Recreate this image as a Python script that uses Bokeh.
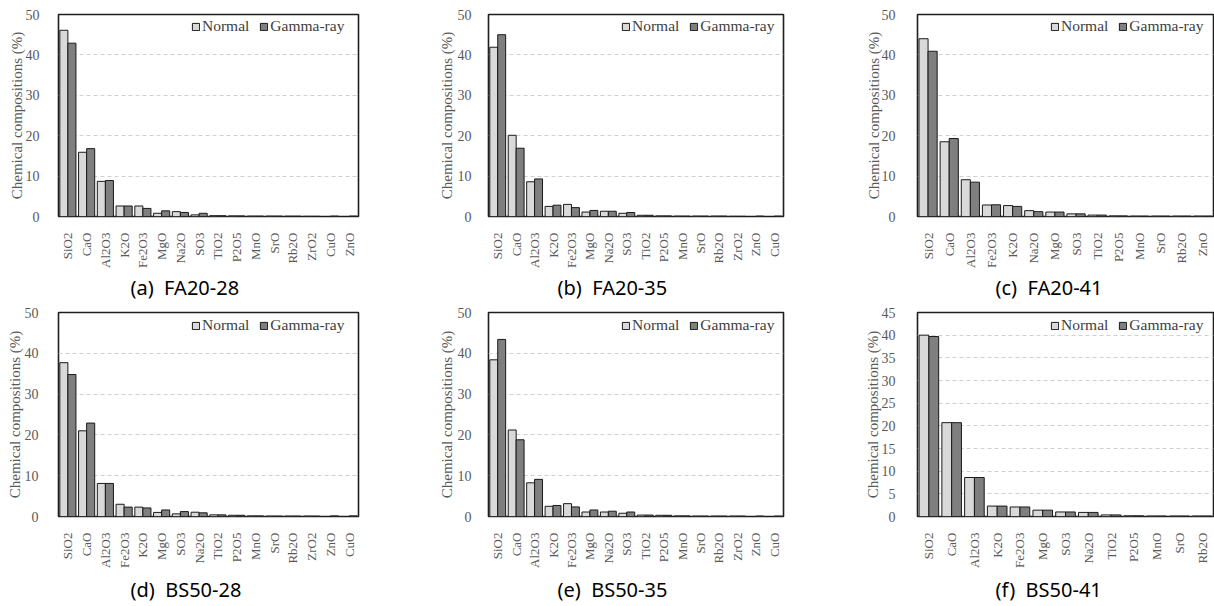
from bokeh.plotting import figure
from bokeh.models import ColumnDataSource, FactorRange, Legend, LegendItem, SingleIntervalTicker, Range1d
from bokeh.layouts import row, column
from bokeh.transform import dodge
from bokeh.embed import file_html
from bokeh.resources import INLINE
import math

# ---- data ----
cats_a = ["SiO2", "CaO", "Al2O3", "K2O", "Fe2O3", "MgO", "Na2O", "SO3", "TiO2", "P2O5", "MnO", "SrO", "Rb2O", "ZrO2", "CuO", "ZnO"]
normal_a = [46.1, 15.9, 8.7, 2.6, 2.6, 0.8, 1.2, 0.4, 0.2, 0.15, 0.1, 0.1, 0.08, 0.05, 0.0, 0.0]
gamma_a = [42.9, 16.8, 8.9, 2.6, 2.0, 1.4, 1.0, 0.8, 0.2, 0.15, 0.1, 0.1, 0.08, 0.05, 0.1, 0.1]

cats_b = ["SiO2", "CaO", "Al2O3", "K2O", "Fe2O3", "MgO", "Na2O", "SO3", "TiO2", "P2O5", "MnO", "SrO", "Rb2O", "ZrO2", "ZnO", "CuO"]
normal_b = [41.9, 20.1, 8.6, 2.5, 3.0, 1.1, 1.3, 0.8, 0.3, 0.15, 0.1, 0.1, 0.1, 0.05, 0.0, 0.0]
gamma_b = [45.0, 16.9, 9.3, 2.8, 2.2, 1.5, 1.3, 1.0, 0.3, 0.15, 0.1, 0.1, 0.1, 0.05, 0.1, 0.1]

cats_c = ["SiO2", "CaO", "Al2O3", "Fe2O3", "K2O", "Na2O", "MgO", "SO3", "TiO2", "P2O5", "MnO", "SrO", "Rb2O", "ZnO"]
normal_c = [44.0, 18.5, 9.1, 2.85, 2.7, 1.45, 1.1, 0.65, 0.35, 0.15, 0.1, 0.1, 0.1, 0.1]
gamma_c = [40.9, 19.3, 8.5, 2.9, 2.5, 1.2, 1.1, 0.65, 0.35, 0.15, 0.1, 0.1, 0.1, 0.1]

cats_d = ["SiO2", "CaO", "Al2O3", "Fe2O3", "K2O", "MgO", "SO3", "Na2O", "TiO2", "P2O5", "MnO", "SrO", "Rb2O", "ZrO2", "ZnO", "CuO"]
normal_d = [37.7, 21.0, 8.1, 3.0, 2.3, 1.0, 0.65, 1.05, 0.4, 0.3, 0.15, 0.1, 0.1, 0.1, 0.0, 0.0]
gamma_d = [34.8, 22.9, 8.1, 2.3, 2.1, 1.6, 1.2, 0.9, 0.4, 0.3, 0.15, 0.1, 0.1, 0.1, 0.15, 0.15]

cats_e = ["SiO2", "CaO", "Al2O3", "K2O", "Fe2O3", "MgO", "Na2O", "SO3", "TiO2", "P2O5", "MnO", "SrO", "Rb2O", "ZrO2", "ZnO", "CuO"]
normal_e = [38.4, 21.2, 8.25, 2.5, 3.15, 1.1, 1.1, 0.8, 0.35, 0.3, 0.15, 0.1, 0.1, 0.1, 0.0, 0.0]
gamma_e = [43.4, 18.8, 9.1, 2.7, 2.35, 1.6, 1.3, 1.1, 0.35, 0.3, 0.15, 0.1, 0.1, 0.1, 0.1, 0.1]

cats_f = ["SiO2", "CaO", "Al2O3", "K2O", "Fe2O3", "MgO", "SO3", "Na2O", "TiO2", "P2O5", "MnO", "SrO", "Rb2O"]
normal_f = [40.0, 20.7, 8.6, 2.3, 2.1, 1.4, 1.0, 0.9, 0.35, 0.15, 0.1, 0.1, 0.1]
gamma_f = [39.7, 20.7, 8.6, 2.3, 2.1, 1.4, 1.0, 0.9, 0.35, 0.15, 0.1, 0.1, 0.1]

captions = ["(a)\u00a0\u00a0FA20-28", "(b)\u00a0\u00a0FA20-35", "(c)\u00a0\u00a0FA20-41",
            "(d)\u00a0\u00a0BS50-28", "(e)\u00a0\u00a0BS50-35", "(f)\u00a0\u00a0BS50-41"]
series_names = ["Normal", "Gamma-ray"]

SERIF = "Liberation Serif"
GREY = "#595959"
FRAME = "#1f1f1f"


def panel(cats, normal, gamma, ymax, step, caption, w, h, left, right, top, bottom,
          tick_so, label_so, cap_off, cap_so):
    src = ColumnDataSource(dict(cat=cats, normal=normal, gamma=gamma))
    p = figure(x_range=FactorRange(factors=cats, range_padding=0), y_range=Range1d(0, ymax),
               width=w, height=h, output_backend="svg", toolbar_location=None,
               min_border_left=left, min_border_right=right, min_border_top=top, min_border_bottom=bottom,
               title=caption, title_location="below")
    r1 = p.vbar(x=dodge("cat", -0.215, range=p.x_range), top="normal", width=0.43, source=src,
                fill_color="#d9d9d9", line_color="#1a1a1a", line_width=1)
    r2 = p.vbar(x=dodge("cat", 0.215, range=p.x_range), top="gamma", width=0.43, source=src,
                fill_color="#7f7f7f", line_color="#1a1a1a", line_width=1)

    p.title.align = "left"
    p.title.offset = cap_off
    p.title.standoff = cap_so
    p.title.text_font = "Noto Sans"
    p.title.text_font_size = "20px"
    p.title.text_font_style = "normal"
    p.title.text_color = "#000000"

    p.yaxis.ticker = SingleIntervalTicker(interval=step)
    p.yaxis.axis_label = "Chemical compositions (%)"
    p.yaxis.axis_label_text_font = SERIF
    p.yaxis.axis_label_text_font_size = "15px"
    p.yaxis.axis_label_text_font_style = "normal"
    p.yaxis.axis_label_text_color = GREY
    p.yaxis.axis_label_standoff = label_so
    for ax in (p.xaxis[0], p.yaxis[0]):
        ax.major_label_text_font = SERIF
        ax.major_label_text_font_size = "13px"
        ax.major_label_text_color = GREY
        ax.major_tick_line_color = None
        ax.minor_tick_line_color = None
        ax.axis_line_color = None
    p.yaxis.major_label_text_font_size = "14px"
    p.yaxis.major_label_standoff = tick_so
    p.xaxis.major_label_standoff = 10
    p.xaxis.major_label_orientation = math.pi / 2

    p.xgrid.visible = False
    p.ygrid.grid_line_color = "#d0d0d0"
    p.ygrid.grid_line_dash = "4 3"
    p.ygrid.grid_line_width = 1

    p.outline_line_color = FRAME
    p.outline_line_width = 1.6
    p.outline_line_alpha = 1
    p.background_fill_color = "white"
    p.border_fill_color = "white"

    frame_h = h - top - bottom
    legend = Legend(items=[LegendItem(label=series_names[0], renderers=[r1]),
                           LegendItem(label=series_names[1], renderers=[r2])],
                    location=(133, frame_h - 22), orientation="horizontal")
    legend.label_text_font = SERIF
    legend.label_text_font_size = "15.5px"
    legend.label_text_color = "#404040"
    legend.glyph_width = 9
    legend.glyph_height = 9
    legend.label_height = 18
    legend.label_standoff = 2
    legend.spacing = 10
    legend.padding = 0
    legend.margin = 0
    legend.border_line_color = None
    legend.background_fill_alpha = 0
    p.add_layout(legend, "center")
    return p


pa = panel(cats_a, normal_a, gamma_a, 50, 10, captions[0], 430, 301, 58, 72, 14, 84, 13, -2, 72, 2)
pb = panel(cats_b, normal_b, gamma_b, 50, 10, captions[1], 430, 301, 58, 77, 14, 84, 11, 0, 69, 2)
pc = panel(cats_c, normal_c, gamma_c, 50, 10, captions[2], 354, 301, 57, 1, 14, 84, 16, -3, 78, 2)
pd = panel(cats_d, normal_d, gamma_d, 50, 10, captions[3], 430, 305, 58, 72, 11, 90, 14, -1, 72, 7)
pe = panel(cats_e, normal_e, gamma_e, 50, 10, captions[4], 430, 305, 58, 77, 11, 90, 11, 0, 69, 7)
pf = panel(cats_f, normal_f, gamma_f, 45, 5, captions[5], 354, 305, 57, 1, 11, 90, 16, -2, 78, 7)

layout = column(row(pa, pb, pc, spacing=0), row(pd, pe, pf, spacing=0), spacing=0)

with open("out.html", "w") as f:
    f.write(file_html(layout, INLINE))
